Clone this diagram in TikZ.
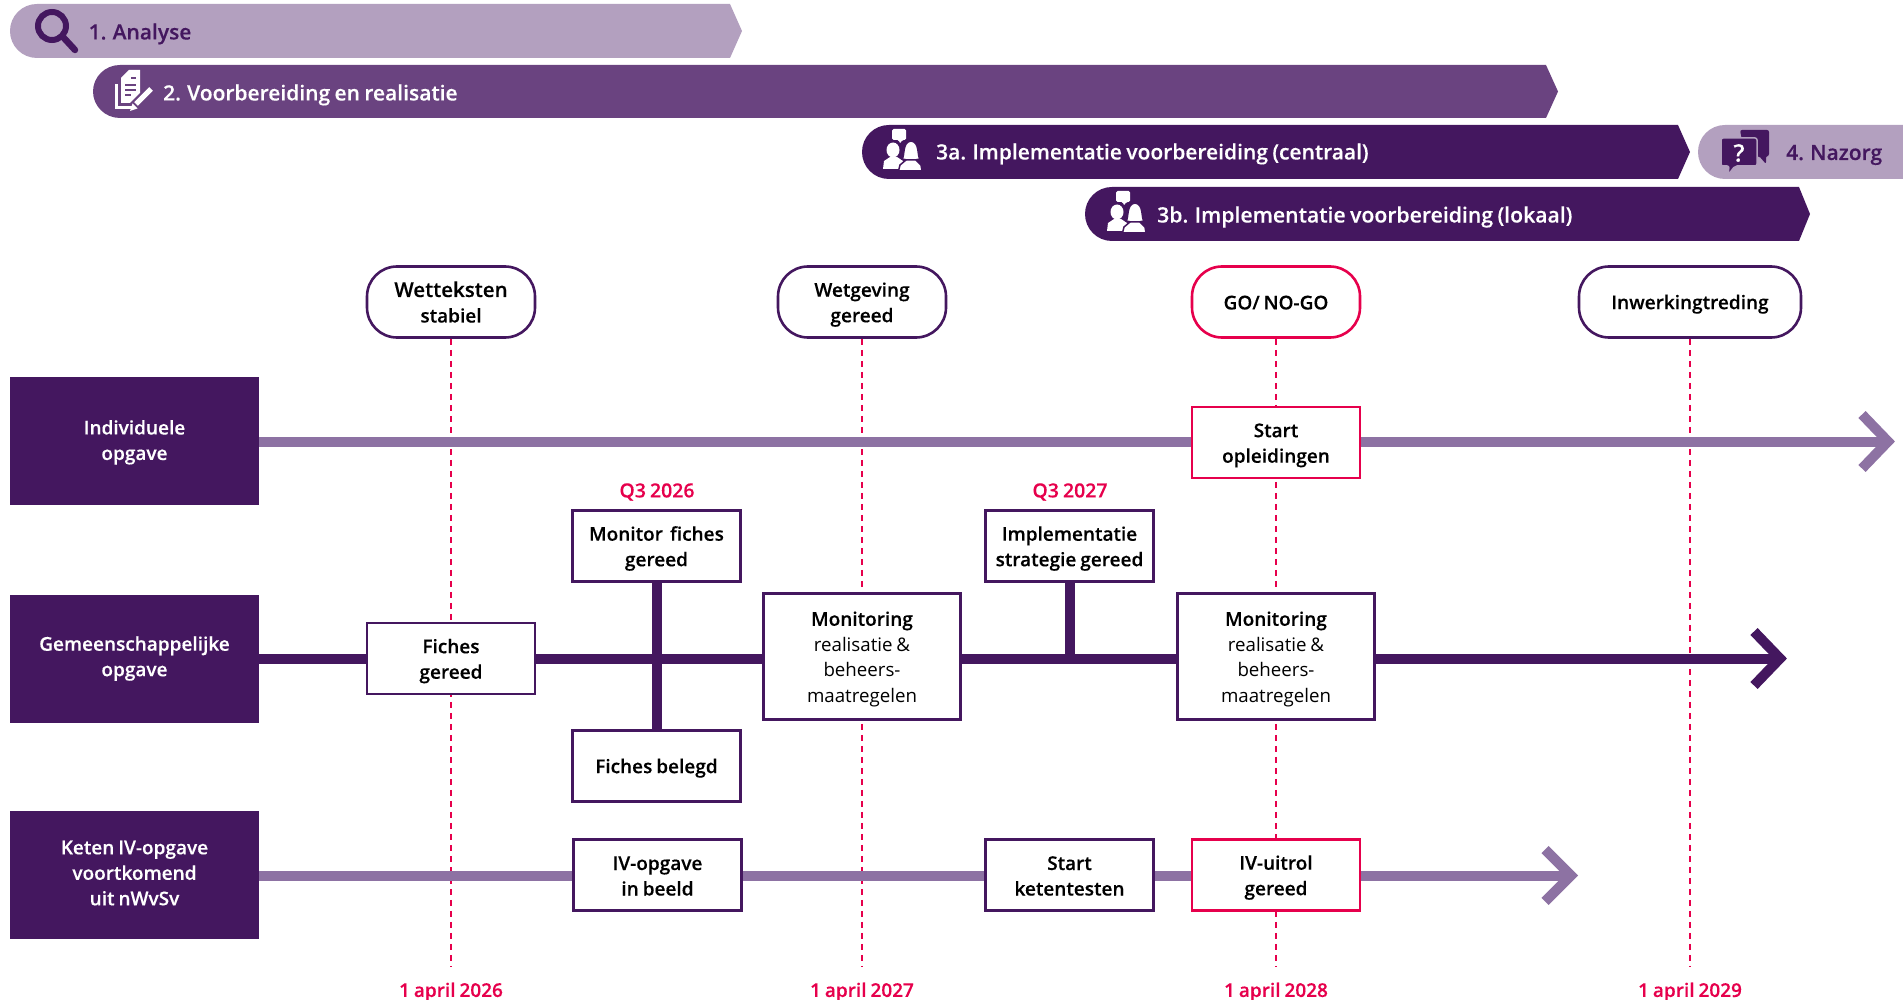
\documentclass[tikz,border=0pt]{standalone}
\usepackage{fontspec}
\setmainfont{Open Sans}[BoldFont={Open Sans Semibold},BoldFeatures={FakeBold=0.25},WordSpace=0.8]
\definecolor{dk}{HTML}{44175F}
\definecolor{md}{HTML}{6A4380}
\definecolor{lt}{HTML}{B3A0BF}
\definecolor{ln}{HTML}{8D72A3}
\definecolor{pk}{HTML}{E6004C}
\newcommand{\phasebar}[6]{% x0, shoulder, tip, y1, y2, color
  \fill[#6] (#2,#4) -- (#1+27,#4) .. controls (#1+12,#4) and (#1,#4+12) .. (#1,#4/2+#5/2)
    .. controls (#1,#5-12) and (#1+12,#5) .. (#1+27,#5) -- (#2,#5) -- (#3,#4/2+#5/2) -- cycle;
}
\newcommand{\fl}{\rule{0pt}{19.5pt}}
\tikzset{
  x=1pt,y=-1pt,
  box/.style={draw=dk,line width=2.6pt,fill=white,align=center,inner sep=0pt,font=\fontsize{19}{25.5}\selectfont\bfseries,text=black,
    execute at end node={\rule[-4pt]{0pt}{4pt}}},
  single/.style={execute at begin node={\rule{0pt}{18.8pt}}},
  pkbox/.style={box,draw=pk},
  pill/.style={box,rounded corners=30pt},
  row/.style={fill=dk,text=white,align=center,inner sep=0pt,font=\fontsize{19}{25.5}\selectfont\bfseries,minimum width=249pt,minimum height=128pt,
    execute at end node={\rule[-4pt]{0pt}{4pt}}},
  date/.style={text=pk,inner sep=0pt,font=\fontsize{19}{22}\selectfont\bfseries},
  bartext/.style={anchor=west,inner sep=0pt,font=\fontsize{21}{25}\selectfont\bfseries},
  guide/.style={draw=pk,line width=1.5pt,dash pattern=on 6pt off 5pt},
  thickL/.style={draw=ln,line width=10pt},
  thickD/.style={draw=dk,line width=10pt},
  chev/.style={line width=10pt,miter limit=10},
}
\begin{document}
\begin{tikzpicture}
\useasboundingbox (0,0) rectangle (1903,1000);
% phase bars
\phasebar{10}{730}{742}{4}{58}{lt}
\phasebar{93}{1546}{1558}{65}{118}{md}
\phasebar{862}{1678}{1690}{125}{179}{dk}
\fill[lt] (1903,125) -- (1725,125) .. controls (1710,125) and (1698,137) .. (1698,152) .. controls (1698,167) and (1710,179) .. (1725,179) -- (1903,179) -- cycle;
\phasebar{1085}{1799}{1810}{187}{241}{dk}
\node[bartext,text=dk] (t1) at (88.5,34) {1. Analyse};
\node[bartext,text=white] (t2) at (163,95) {2. Voorbereiding en realisatie};
\node[bartext,text=white] (t3a) at (936,154) {3a. Implementatie voorbereiding (centraal)};
\node[bartext,text=dk] (t4) at (1786,155) {4. Nazorg};
\node[bartext,text=white,font=\fontsize{21.2}{25}\selectfont\bfseries] (t3b) at (1157,217) {3b. Implementatie voorbereiding (lokaal)};
% magnifier icon
\draw[dk,line width=6pt] (52,26) circle[radius=14];
\draw[dk,line width=6.5pt,line cap=round] (63,37) -- (75,50);
% document icon
\draw[white,line width=3pt] (116,84) -- (116,108) -- (134,108);
\fill[white] (129,70) -- (140,70) -- (140,93) -- (130,103) -- (121,103) -- (121,78) -- cycle;
\draw[md,line width=2pt] (131,78) -- (136,78) (125,85) -- (136,85) (125,90) -- (136,90) (125,95) -- (131,95);
\draw[md,line width=7.5pt] (152,88) -- (134,106);
\draw[white,line width=5pt] (151,89) -- (136,104);
\fill[white] (132.5,103.5) -- (130,111) -- (137.5,108.5) -- cycle;
% people icons
\foreach \dx/\dy in {0/0,224/62}{
  \begin{scope}[shift={(\dx,\dy)}]
  \fill[white,rounded corners=1.5pt] (892,129) -- (906,129) -- (906,140) -- (902,140) -- (900,144) -- (899,140) -- (892,140) -- cycle;
  \fill[white] (893,150) ellipse[x radius=6.5,y radius=7.5];
  \fill[white] (883,169) -- (884,161) -- (890,157) -- (897,157) -- (903,161) -- (903,169) -- cycle;
  \fill[white,draw=dk,line width=1.5pt] (902,159) .. controls (905,156) and (902,142) .. (911,141) .. controls (920,142) and (917,156) .. (920,159) -- (915,160) -- (907,160) -- cycle;
  \fill[white,draw=dk,line width=1.5pt] (898.5,171) -- (900,165) -- (906,160) -- (916,160) -- (921,165) -- (922,171) -- cycle;
  \end{scope}
}
% speech bubbles icon
\fill[dk,rounded corners=2pt] (1740,130) -- (1769,130) -- (1769,156) -- (1766,156) -- (1766,164) -- (1759,156) -- (1745,156) -- cycle;
\fill[dk,draw=lt,line width=1.5pt,rounded corners=2pt] (1721,138) -- (1757,138) -- (1757,166) -- (1735,166) -- (1728,175) -- (1729,166) -- (1721,166) -- cycle;
\node[text=white,inner sep=0pt,font=\fontsize{24}{24}\selectfont\bfseries] (qm) at (1739,153) {?};
% milestones
\node[pill,minimum width=168pt,minimum height=71pt] (m1) at (451,302) {\fl{\fontsize{20.5}{25.5}\selectfont Wetteksten}\\stabiel};
\node[pill,minimum width=168pt,minimum height=71pt] (m2) at (862,302) {\fl Wetgeving\\gereed};
\node[pill,single,draw=pk,minimum width=168pt,minimum height=71pt] (m3) at (1276,302) {GO/ NO-GO};
\node[pill,single,minimum width=222pt,minimum height=71pt] (m4) at (1690,302) {Inwerkingtreding};
% date labels
\node[date] (d1) at (451,992) {1 april 2026};
\node[date] (d2) at (862,992) {1 april 2027};
\node[date] (d3) at (1276,992) {1 april 2028};
\node[date] (d4) at (1690,992) {1 april 2029};
\coordinate (g1) at (451,966);
\coordinate (g2) at (862,966);
\coordinate (g3) at (1276,966);
\coordinate (g4) at (1690,966);
\draw[guide] (m1.south) -- (g1);
\draw[guide] (m2.south) -- (g2);
\draw[guide] (m3.south) -- (g3);
\draw[guide] (m4.south) -- (g4);
% rows
\node[row] (r1) at (134.5,441) {\rule{0pt}{17pt}Individuele\\opgave};
\node[row] (r2) at (134.5,658.5) {Gemeenschappelijke\\opgave};
\node[row] (r3) at (134.5,875) {Keten IV-opgave\\voortkomend\\uit nWvSv};
% free ends
\coordinate (e1) at (1888,441.5);
\coordinate (e2) at (1780,658.5);
\coordinate (e3) at (1571,875.5);
% row lines first, boxes on top
\draw[thickL] (r1.east |- e1) -- (e1);
\draw[thickD] (r2.east |- e2) -- (e2);
\draw[thickL] (r3.east |- e3) -- (e3);
\draw[ln,chev] ([shift={(-26,-27)}]e1) -- (e1) -- ([shift={(-26,27)}]e1);
\draw[dk,chev] ([shift={(-26,-27)}]e2) -- (e2) -- ([shift={(-26,27)}]e2);
\draw[ln,chev] ([shift={(-26,-26)}]e3) -- (e3) -- ([shift={(-26,26)}]e3);
% boxes
\node[box,minimum width=168pt,minimum height=71pt] (mf) at (656.5,546) {\fl Monitor\, fiches\\gereed};
\node[box,single,minimum width=168pt,minimum height=71pt] (fb) at (656.5,766) {Fiches belegd};
\draw[thickD] (mf.south) -- (fb.north);
\node[box,minimum width=168pt,minimum height=71pt] (is) at (1069.5,546) {\fl Implementatie\\strategie gereed};
\draw[thickD] (is.south) -- (is |- e2);
\node[pkbox,minimum width=168pt,minimum height=71pt] (so) at (1276,442.5) {\fl Start\\opleidingen};
\node[box,minimum width=168pt,minimum height=71pt] (fg) at (451,658.5) {\fl Fiches\\gereed};
\node[box,minimum width=197pt,minimum height=126pt,font=\fontsize{18.7}{25.5}\selectfont] (mon1) at (862,656.5) {\fl{\fontsize{19}{25.5}\selectfont\bfseries Monitoring}\\realisatie \&\\beheers-\\maatregelen};
\node[box,minimum width=197pt,minimum height=126pt,font=\fontsize{18.7}{25.5}\selectfont] (mon2) at (1276,656.5) {\fl{\fontsize{19}{25.5}\selectfont\bfseries Monitoring}\\realisatie \&\\beheers-\\maatregelen};
\node[box,minimum width=168pt,minimum height=71pt] (iv1) at (657.5,875) {\fl IV-opgave\\in beeld};
\node[box,minimum width=168pt,minimum height=71pt] (sk) at (1069.5,875) {\fl Start\\ketentesten};
\node[pkbox,minimum width=168pt,minimum height=71pt] (iv2) at (1276,875) {\fl IV-uitrol\\gereed};
\node[date,font=\fontsize{19.5}{22}\selectfont\bfseries] (q1) at (657,492) {Q3 2026};
\node[date,font=\fontsize{19.5}{22}\selectfont\bfseries] (q2) at (1070,492) {Q3 2027};
\end{tikzpicture}
\end{document}
